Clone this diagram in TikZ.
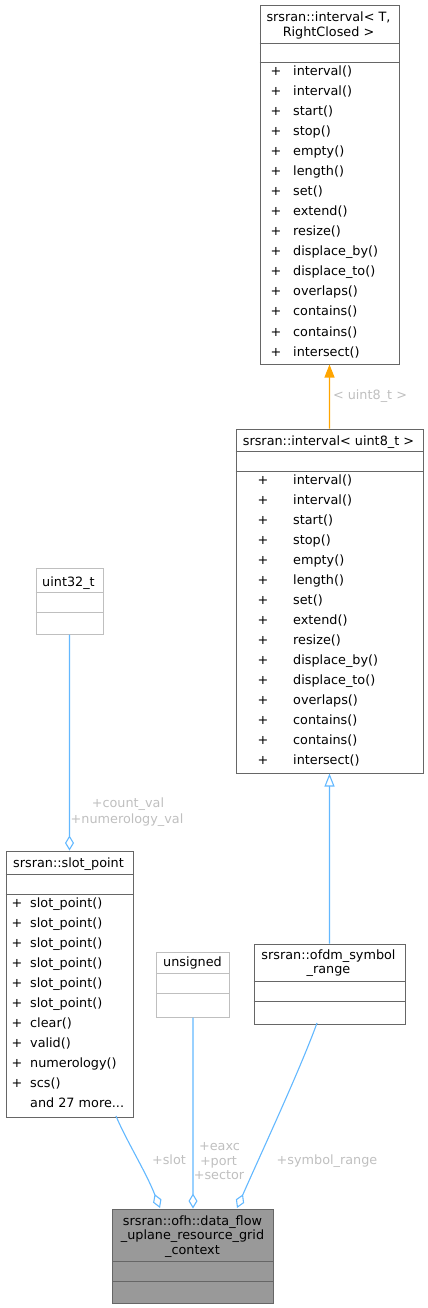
\documentclass[tikz,border=0pt]{standalone}
\usepackage{fontspec}
\setmainfont{DejaVu Sans}
\usetikzlibrary{arrows.meta}
\definecolor{edgeblue}{HTML}{63B8FF}
\definecolor{inhorange}{HTML}{FFA500}
\definecolor{lblgray}{HTML}{BFBFBF}
\definecolor{darkbd}{HTML}{666666}
\definecolor{lightbd}{HTML}{BFBFBF}
\definecolor{mainfill}{HTML}{999999}
\tikzset{
  every node/.style={font=\fontsize{12.85}{15}\selectfont, inner sep=0pt},
  classbox/.style={draw=darkbd, line width=1bp, fill=white, anchor=north west, rectangle},
  undocbox/.style={draw=lightbd, line width=1bp, fill=white, anchor=north west, rectangle},
  mainbox/.style={draw=darkbd, line width=1bp, fill=mainfill, anchor=north west, rectangle},
  sepdark/.style={draw=darkbd, line width=1bp},
  seplight/.style={draw=lightbd, line width=1bp},
  ttl/.style={anchor=base},
  mem/.style={anchor=base west},
  plus/.style={anchor=base},
  lbl/.style={anchor=base, text=lblgray},
  aggr/.style={draw=edgeblue, line width=1.1bp, {Diamond[open, length=15bp, width=9bp]}-},
  inh/.style={draw=edgeblue, line width=1.1bp, -{Triangle[open, length=13bp, width=10bp]}},
  tmpl/.style={draw=inhorange, line width=1.1bp, -{Triangle[length=13bp, width=10bp]}},
}
\begin{document}
\begin{tikzpicture}[x=1bp, y=-1bp]
\useasboundingbox (0,0) rectangle (427,1308);

% ---- interval< T, RightClosed >
\node[classbox, minimum width=139bp, minimum height=358bp] (A) at (259.5,5.5) {};
\node[ttl] (At1) at (328.5,22) {srsran::interval< T,};
\node[ttl] (At2) at (328.5,37) {RightClosed >};
\draw[sepdark] (259.5,43.5) -- (398.5,43.5);
\draw[sepdark] (259.5,62.5) -- (398.5,62.5);
\foreach \t [count=\i from 0] in {interval(),interval(),start(),stop(),empty(),length(),set(),extend(),resize(),displace\_by(),displace\_to(),overlaps(),contains(),contains(),intersect()}{
  \node[plus] (Ap\i) at (276,76+20*\i) {+};
  \node[mem] (Am\i) at (293,76+20*\i) {\t};
}

% ---- interval< uint8_t >
\node[classbox, minimum width=187bp, minimum height=344bp] (B) at (235.5,428.5) {};
\node[ttl] (Bt1) at (328.5,445) {srsran::interval< uint8\_t >};
\draw[sepdark] (235.5,451.5) -- (422.5,451.5);
\draw[sepdark] (235.5,471.5) -- (422.5,471.5);
\foreach \t [count=\i from 0] in {interval(),interval(),start(),stop(),empty(),length(),set(),extend(),resize(),displace\_by(),displace\_to(),overlaps(),contains(),contains(),intersect()}{
  \node[plus] (Bp\i) at (263,484+20*\i) {+};
  \node[mem] (Bm\i) at (293,484+20*\i) {\t};
}

% ---- uint32_t
\node[undocbox, minimum width=67bp, minimum height=66bp] (U32) at (35.5,567.5) {};
\node[ttl] (U32t) at (68.5,586) {uint32\_t};
\draw[seplight] (35.5,592.5) -- (102.5,592.5);
\draw[seplight] (35.5,612.5) -- (102.5,612.5);

% ---- slot_point
\node[classbox, minimum width=127bp, minimum height=266bp] (S) at (5.5,850.5) {};
\node[ttl] (St) at (68.5,867) {srsran::slot\_point};
\draw[sepdark] (5.5,874.5) -- (132.5,874.5);
\draw[sepdark] (5.5,894.5) -- (132.5,894.5);
\foreach \t [count=\i from 0] in {slot\_point(),slot\_point(),slot\_point(),slot\_point(),slot\_point(),slot\_point(),clear(),valid(),numerology(),scs()}{
  \node[plus] (Sp\i) at (17,907+20*\i) {+};
  \node[mem] (Sm\i) at (30,907+20*\i) {\t};
}
\node[mem] (Smore) at (30,1107) {and 27 more...};

% ---- unsigned
\node[undocbox, minimum width=73bp, minimum height=65bp] (UN) at (156,951.5) {};
\node[ttl] (UNt) at (192.5,966) {unsigned};
\draw[seplight] (156,973.5) -- (229,973.5);
\draw[seplight] (156,993.5) -- (229,993.5);

% ---- ofdm_symbol_range
\node[classbox, minimum width=151bp, minimum height=80bp] (O) at (253.5,943.5) {};
\node[ttl] (Ot1) at (328.5,959.5) {srsran::ofdm\_symbol};
\node[ttl] (Ot2) at (328.5,973.5) {\_range};
\draw[sepdark] (253.5,981.5) -- (404.5,981.5);
\draw[sepdark] (253.5,1001.5) -- (404.5,1001.5);

% ---- main class
\node[mainbox, minimum width=161bp, minimum height=94bp] (M) at (112,1208.5) {};
\node[ttl] (Mt1) at (192.5,1225) {srsran::ofh::data\_flow};
\node[ttl] (Mt2) at (192.5,1239.5) {\_uplane\_resource\_grid};
\node[ttl] (Mt3) at (192.5,1254) {\_context};
\draw[sepdark] (112,1261.5) -- (273,1261.5);
\draw[sepdark] (112,1281.5) -- (273,1281.5);

% ---- connectors
\draw[tmpl] (B.north) -- (A.south);
\node[lbl] (Lt) at (370,399) {< uint8\_t >};

\draw[inh] (O.north) -- (B.south);

\draw[aggr] (S.north) -- (U32.south);
\node[lbl] (Lc1) at (128,807) {+count\_val};
\node[lbl] (Lc2) at (127,823) {+numerology\_val};

\coordinate (mS) at (160,1208);
\coordinate (sB) at (116,1116);
\draw[aggr] (mS) .. controls (146,1172) and (126,1140) .. (sB);
\node[lbl] (Ls) at (169,1164) {+slot};

\draw[aggr] (M.north) -- (UN.south);
\node[lbl] (Le1) at (219.5,1150) {+eaxc};
\node[lbl] (Le2) at (218.5,1165) {+port};
\node[lbl] (Le3) at (219,1179) {+sector};

\coordinate (mO) at (237,1208);
\coordinate (oB) at (317,1023);
\draw[aggr] (mO) .. controls (258,1160) and (300,1070) .. (oB);
\node[lbl] (Lsr) at (327,1164) {+symbol\_range};
\end{tikzpicture}
\end{document}
